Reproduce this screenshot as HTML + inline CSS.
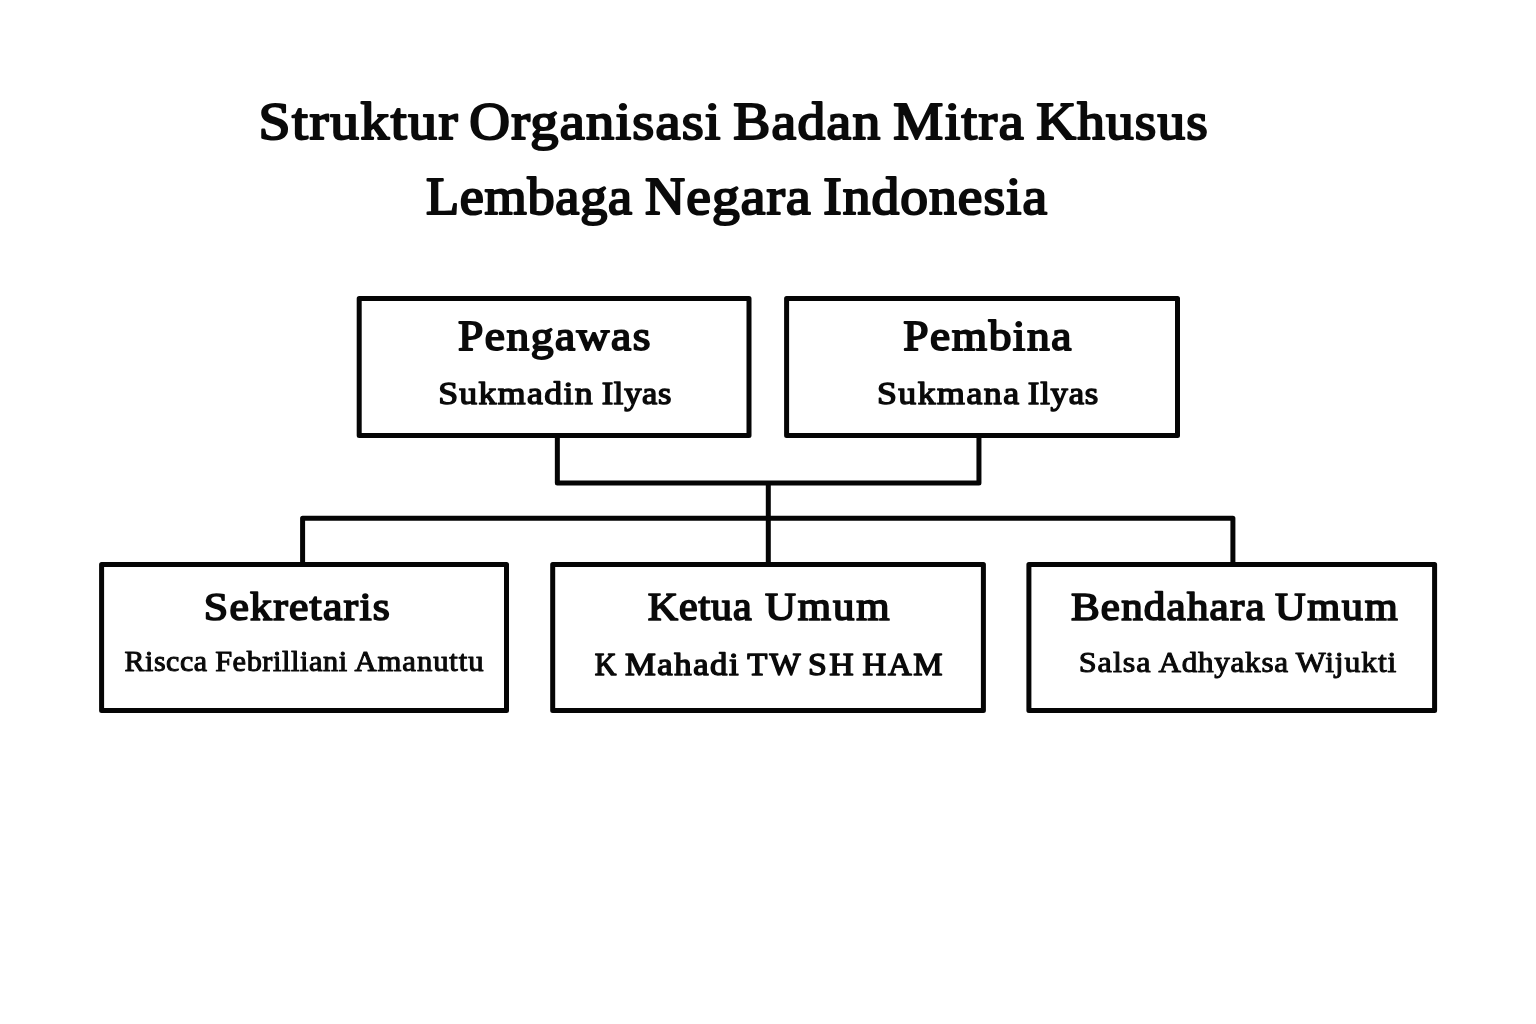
<!DOCTYPE html>
<html lang="id">
<head>
<meta charset="utf-8">
<title>Struktur Organisasi Badan Mitra Khusus Lembaga Negara Indonesia</title>
<style>
html,body{margin:0;padding:0;background:#fff;}
body{width:1536px;height:1024px;overflow:hidden;}
svg{display:block;will-change:transform;}
svg text{font-family:"Liberation Serif",serif;fill:#0a0a0a;}
</style>
</head>
<body>
<svg width="1536" height="1024" viewBox="0 0 1536 1024">
<rect x="0" y="0" width="1536" height="1024" fill="#ffffff"/>
<g fill="none" stroke="#050505" stroke-width="5.0" stroke-linejoin="round" stroke-linecap="butt">
<rect x="359.20" y="298.40" width="389.80" height="137.00"/>
<rect x="786.60" y="298.40" width="390.90" height="137.00"/>
<rect x="101.60" y="564.60" width="404.90" height="145.80"/>
<rect x="552.70" y="564.60" width="430.70" height="145.80"/>
<rect x="1028.90" y="564.60" width="405.70" height="145.80"/>
<path d="M557.35 437 V483.05 H978.95 V437"/>
<path d="M768.3 483 V563"/>
<path d="M302.6 563 V518.35 H1232.9 V563"/>
</g>
<g>
<text transform="translate(258.48 139.05) scale(1.0939 1)" font-size="52.52" font-weight="normal" letter-spacing="1.407" stroke="#0a0a0a" stroke-width="2.1" stroke-linejoin="round">Struktur</text>
<text transform="translate(469.37 139.05) scale(1.0738 1)" font-size="52.52" font-weight="normal" letter-spacing="1.139" stroke="#0a0a0a" stroke-width="2.1" stroke-linejoin="round">Organisasi</text>
<text transform="translate(733.34 139.05) scale(1.0568 1)" font-size="52.52" font-weight="normal" letter-spacing="1.202" stroke="#0a0a0a" stroke-width="2.1" stroke-linejoin="round">Badan</text>
<text transform="translate(893.33 139.05) scale(1.0700 1)" font-size="52.52" font-weight="normal" letter-spacing="1.273" stroke="#0a0a0a" stroke-width="2.1" stroke-linejoin="round">Mitra</text>
<text transform="translate(1036.23 139.05) scale(1.0531 1)" font-size="52.52" font-weight="normal" letter-spacing="1.060" stroke="#0a0a0a" stroke-width="2.1" stroke-linejoin="round">Khusus</text>
<text transform="translate(425.88 214.05) scale(1.0335 1)" font-size="52.52" font-weight="normal" letter-spacing="0.703" stroke="#0a0a0a" stroke-width="2.1" stroke-linejoin="round">Lembaga</text>
<text transform="translate(644.96 214.05) scale(1.0563 1)" font-size="52.52" font-weight="normal" letter-spacing="1.077" stroke="#0a0a0a" stroke-width="2.1" stroke-linejoin="round">Negara</text>
<text transform="translate(823.26 214.05) scale(1.0578 1)" font-size="52.52" font-weight="normal" letter-spacing="0.930" stroke="#0a0a0a" stroke-width="2.1" stroke-linejoin="round">Indonesia</text>
<text transform="translate(457.89 349.80) scale(1.0956 1)" font-size="41.53" font-weight="normal" letter-spacing="1.380" stroke="#0a0a0a" stroke-width="1.8" stroke-linejoin="round">Pengawas</text>
<text transform="translate(903.35 349.80) scale(1.0938 1)" font-size="41.53" font-weight="normal" letter-spacing="1.384" stroke="#0a0a0a" stroke-width="1.8" stroke-linejoin="round">Pembina</text>
<text transform="translate(438.13 403.80) scale(1.1065 1)" font-size="32.37" font-weight="normal" letter-spacing="1.203" stroke="#0a0a0a" stroke-width="1.4" stroke-linejoin="round">Sukmadin</text>
<text transform="translate(601.68 403.80) scale(1.0660 1)" font-size="32.37" font-weight="normal" letter-spacing="0.649" stroke="#0a0a0a" stroke-width="1.4" stroke-linejoin="round">Ilyas</text>
<text transform="translate(876.91 403.70) scale(1.1083 1)" font-size="32.37" font-weight="normal" letter-spacing="1.308" stroke="#0a0a0a" stroke-width="1.4" stroke-linejoin="round">Sukmana</text>
<text transform="translate(1027.82 403.70) scale(1.0728 1)" font-size="32.37" font-weight="normal" letter-spacing="0.712" stroke="#0a0a0a" stroke-width="1.4" stroke-linejoin="round">Ilyas</text>
<text transform="translate(203.82 620.25) scale(1.1034 1)" font-size="39.69" font-weight="normal" letter-spacing="1.101" stroke="#0a0a0a" stroke-width="1.7" stroke-linejoin="round">Sekretaris</text>
<text transform="translate(124.48 671.10) scale(1.0550 1)" font-size="28.40" font-weight="normal" letter-spacing="0.526" stroke="#0a0a0a" stroke-width="1.0" stroke-linejoin="round">Riscca</text>
<text transform="translate(215.17 671.10) scale(1.0699 1)" font-size="28.40" font-weight="normal" letter-spacing="0.515" stroke="#0a0a0a" stroke-width="1.0" stroke-linejoin="round">Febrilliani</text>
<text transform="translate(354.53 671.10) scale(1.0817 1)" font-size="28.40" font-weight="normal" letter-spacing="0.817" stroke="#0a0a0a" stroke-width="1.0" stroke-linejoin="round">Amanuttu</text>
<text transform="translate(647.80 620.35) scale(1.0567 1)" font-size="39.69" font-weight="normal" letter-spacing="0.847" stroke="#0a0a0a" stroke-width="1.7" stroke-linejoin="round">Ketua</text>
<text transform="translate(764.90 620.35) scale(1.0787 1)" font-size="39.69" font-weight="normal" letter-spacing="1.787" stroke="#0a0a0a" stroke-width="1.7" stroke-linejoin="round">Umum</text>
<text transform="translate(594.69 675.10) scale(0.9727 1)" font-size="30.84" font-weight="normal" stroke="#0a0a0a" stroke-width="1.4" stroke-linejoin="round" vector-effect="non-scaling-stroke">K</text>
<text transform="translate(625.01 675.10) scale(1.1237 1)" font-size="30.84" font-weight="normal" letter-spacing="1.382" stroke="#0a0a0a" stroke-width="1.4" stroke-linejoin="round">Mahadi</text>
<text transform="translate(747.27 675.10) scale(1.0669 1)" font-size="30.84" font-weight="normal" letter-spacing="2.004" stroke="#0a0a0a" stroke-width="1.4" stroke-linejoin="round">TW</text>
<text transform="translate(807.92 675.10) scale(1.0962 1)" font-size="30.84" font-weight="normal" letter-spacing="2.305" stroke="#0a0a0a" stroke-width="1.4" stroke-linejoin="round">SH</text>
<text transform="translate(862.61 675.10) scale(1.0654 1)" font-size="30.84" font-weight="normal" letter-spacing="1.472" stroke="#0a0a0a" stroke-width="1.4" stroke-linejoin="round">HAM</text>
<text transform="translate(1070.95 620.25) scale(1.0847 1)" font-size="39.69" font-weight="normal" letter-spacing="1.104" stroke="#0a0a0a" stroke-width="1.7" stroke-linejoin="round">Bendahara</text>
<text transform="translate(1274.89 620.25) scale(1.0686 1)" font-size="39.69" font-weight="normal" letter-spacing="1.572" stroke="#0a0a0a" stroke-width="1.7" stroke-linejoin="round">Umum</text>
<text transform="translate(1078.69 672.40) scale(1.0983 1)" font-size="29.31" font-weight="normal" letter-spacing="0.922" stroke="#0a0a0a" stroke-width="1.0" stroke-linejoin="round">Salsa</text>
<text transform="translate(1158.44 672.40) scale(1.0638 1)" font-size="29.31" font-weight="normal" letter-spacing="0.670" stroke="#0a0a0a" stroke-width="1.0" stroke-linejoin="round">Adhyaksa</text>
<text transform="translate(1295.73 672.40) scale(1.0831 1)" font-size="29.31" font-weight="normal" letter-spacing="0.754" stroke="#0a0a0a" stroke-width="1.0" stroke-linejoin="round">Wijukti</text>
</g>
</svg>
</body>
</html>
